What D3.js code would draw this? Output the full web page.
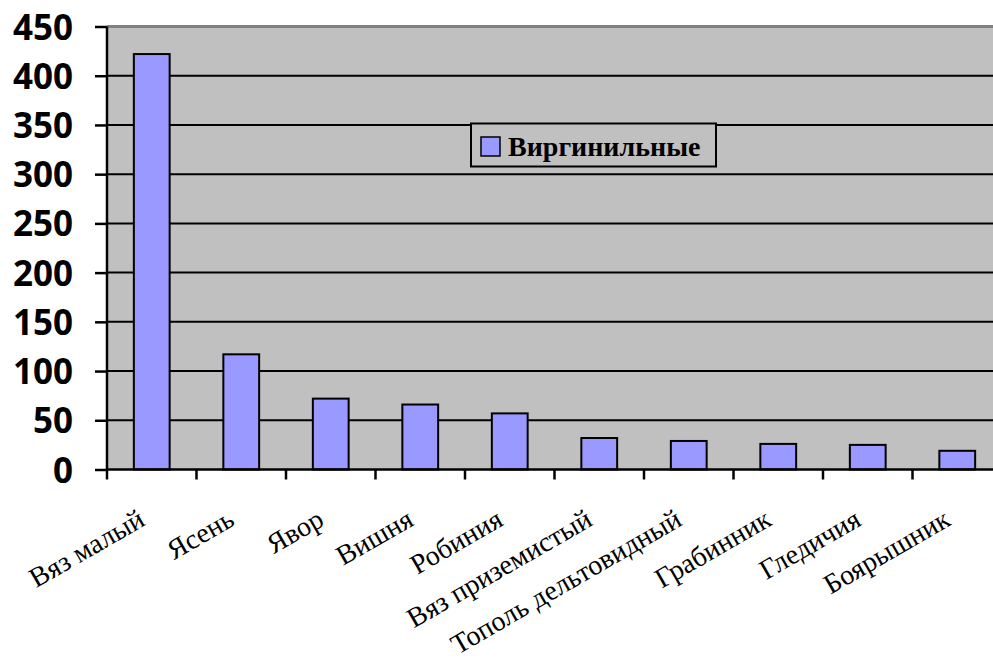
<!DOCTYPE html>
<html><head><meta charset="utf-8">
<script src="https://cdn.jsdelivr.net/npm/d3@7"></script>
<style>html,body{margin:0;padding:0;background:#fff;overflow:hidden}</style>
</head><body>
<script>
const categories = ["Вяз малый","Ясень","Явор","Вишня","Робиния","Вяз приземистый","Тополь дельтовидный","Грабинник","Гледичия","Боярышник"];
const values = [422,117,72,66,57,32,29,26,25,19];
const yTicks = [0,50,100,150,200,250,300,350,400,450];
const seriesName = "Виргинильные";

(function(){
const W = 993, H = 667;
const pL = 107, pR = 1002, pT = 26.5, pB = 469.5;
const serif = "Liberation Serif, Tinos, Times New Roman, Noto Serif, DejaVu Serif, serif";
const svg = d3.select("body").append("svg").attr("width", W).attr("height", H);

const x = d3.scaleBand().domain(categories).range([pL, pR]).paddingInner(0.6).paddingOuter(0.3);
const y = d3.scaleLinear().domain([0, 450]).range([pB, pT]);

svg.append("rect").attr("x", pL).attr("y", pT).attr("width", pR-pL).attr("height", pB-pT).attr("fill", "#C0C0C0");

svg.append("g").selectAll("line").data(yTicks.filter(d => d > 0 && d < 450)).join("line")
  .attr("x1", pL).attr("x2", pR).attr("y1", d => y(d)).attr("y2", d => y(d))
  .attr("stroke", "#000").attr("stroke-width", 2);
svg.append("line").attr("x1", pL).attr("x2", pR).attr("y1", y(450)).attr("y2", y(450))
  .attr("stroke", "#808080").attr("stroke-width", 3);

svg.append("g").selectAll("rect").data(values).join("rect")
  .attr("x", (d,i) => x(categories[i])).attr("width", x.bandwidth())
  .attr("y", d => y(d)).attr("height", d => y(0) - y(d))
  .attr("fill", "#9999FF").attr("stroke", "#000").attr("stroke-width", 2);

const ya = svg.append("g").attr("transform", `translate(${pL},0)`)
  .call(d3.axisLeft(y).tickValues(yTicks).tickSize(12).tickPadding(22));
ya.select(".domain").attr("stroke", "#000").attr("stroke-width", 2.5).attr("d", `M0,${pT}V${pB+1}`);
ya.selectAll(".tick line").attr("stroke", "#000").attr("stroke-width", 2.5);
ya.selectAll(".tick text").attr("font-family", "Open Sans, sans-serif").attr("font-weight", "bold")
  .attr("font-size", 35).attr("fill", "#000").attr("dy", "0.36em");

const xa = svg.append("g").attr("transform", `translate(0,${pB})`);
xa.append("line").attr("x1", pL).attr("x2", pR).attr("stroke", "#000").attr("stroke-width", 2.5);
const bounds = categories.map(c => x(c) - x.step()*x.paddingInner()/2);
xa.selectAll("line.tk").data(bounds).join("line").attr("class","tk")
  .attr("x1", d => d).attr("x2", d => d).attr("y1", 0).attr("y2", 10)
  .attr("stroke", "#000").attr("stroke-width", 2.5);
xa.selectAll("text").data(categories).join("text")
  .attr("transform", d => `translate(${x(d) + x.bandwidth()/2 - 15},${38}) rotate(-30)`)
  .attr("text-anchor", "end").attr("dy", "0.7em")
  .style("font-family", serif).attr("font-size", 28)
  .attr("fill", "#000").text(d => d);

const lg = svg.append("g").attr("transform", "translate(471,123.5)");
lg.append("rect").attr("width", 245).attr("height", 43).attr("fill", "#C0C0C0").attr("stroke", "#000").attr("stroke-width", 2);
lg.append("rect").attr("x", 10).attr("y", 13.5).attr("width", 19).attr("height", 19).attr("fill", "#9999FF").attr("stroke", "#000").attr("stroke-width", 1.5);
lg.append("text").attr("x", 37).attr("y", 32).style("font-family", serif)
  .attr("font-weight", "bold").attr("font-size", 28).attr("fill", "#000").text(seriesName);
})();
</script>
</body></html>
